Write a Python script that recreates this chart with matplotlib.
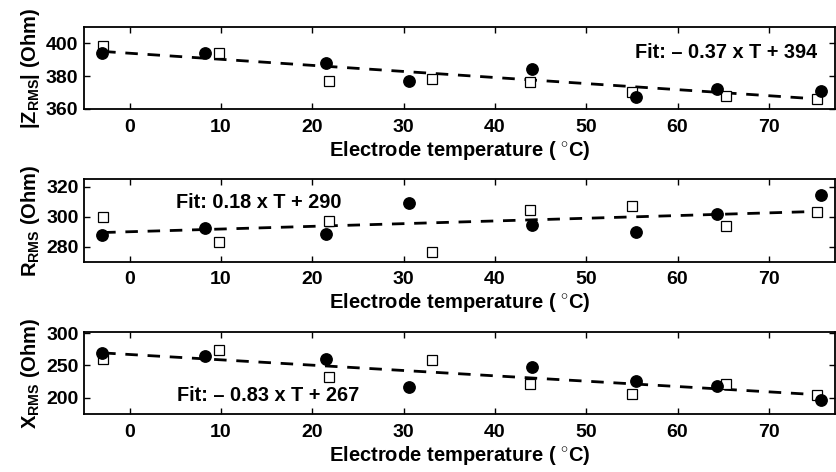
import numpy as np
import matplotlib
matplotlib.use("Agg")
import matplotlib.pyplot as plt

plt.rcParams['font.family'] = ['Liberation Sans', 'DejaVu Sans']
plt.rcParams['font.weight'] = 'bold'
plt.rcParams['mathtext.fontset'] = 'custom'
plt.rcParams['mathtext.rm'] = 'Liberation Sans:bold'
plt.rcParams['mathtext.bf'] = 'Liberation Sans:bold'
plt.rcParams['mathtext.it'] = 'Liberation Sans:bold'

# temperatures (deg C)
t_circle = [-3.0, 8.3, 21.5, 30.6, 44.1, 55.5, 64.3, 75.7]
t_square = [-2.9, 9.8, 21.8, 33.1, 43.8, 55.0, 65.3, 75.3]

# |Z_RMS|
z_circle = [393.9, 394.0, 388.2, 377.0, 384.3, 367.4, 372.3, 371.0]
z_square = [398.4, 394.0, 376.8, 378.2, 376.4, 370.5, 367.7, 365.9]
# R_RMS
r_circle = [287.8, 292.7, 288.2, 308.9, 294.5, 290.0, 301.6, 314.5]
r_square = [300.0, 283.1, 297.1, 276.7, 304.2, 307.1, 293.8, 303.3]
# X_RMS
x_circle = [269.7, 264.5, 260.4, 215.8, 247.4, 226.2, 218.4, 195.6]
x_square = [260.4, 274.4, 231.9, 258.8, 221.0, 206.0, 220.5, 203.9]

# fit coefficients (slope, intercept) as printed on the chart
fits = [(-0.37, 394), (0.18, 290), (-0.83, 267)]
fit_texts = ['Fit: \u2013 0.37 x T + 394', 'Fit: 0.18 x T + 290', 'Fit: \u2013 0.83 x T + 267']
fit_pos = [(65.3, 394.7), (14.1, 309.3), (15.2, 203.4)]

ylabels = [r'|Z$_{\mathrm{RMS}}$| (Ohm)', r'R$_{\mathrm{RMS}}$ (Ohm)', r'X$_{\mathrm{RMS}}$ (Ohm)']
ylims = [(360, 410), (270, 325), (174, 301.5)]
yticks = [[360, 380, 400], [280, 300, 320], [200, 250, 300]]
xticks = [0, 10, 20, 30, 40, 50, 60, 70]

W, H = 837, 472
fig = plt.figure(figsize=(W / 100, H / 100), dpi=100)
boxes = [(27, 109), (179.3, 261.7), (332.3, 414.3)]
left, right = 84, 835.5

panels = [(z_circle, z_square), (r_circle, r_square), (x_circle, x_square)]
for i, (yc, ys) in enumerate(panels):
    top, bot = boxes[i]
    ax = fig.add_axes([left / W, 1 - bot / H, (right - left) / W, (bot - top) / H])
    a, b = fits[i]
    tf = np.array([t_square[0], t_square[-1]])
    ax.plot(tf, a * tf + b, color='black', lw=2, ls=(0, (4.5, 3.5)), zorder=2)
    ax.plot(t_square, ys, 's', ms=6.8, mfc='white', mec='black', mew=0.9, zorder=3)
    ax.plot(t_circle, yc, 'o', ms=8.2, mfc='black', mec='black', zorder=4)
    ax.text(fit_pos[i][0], fit_pos[i][1], fit_texts[i], ha='center', va='center',
            fontsize=14.3, fontweight='bold')
    ax.set_xlim(-5, 77.3)
    ax.set_ylim(*ylims[i])
    ax.set_xticks(xticks)
    ax.set_yticks(yticks[i])
    ax.tick_params(axis='x', pad=7)
    ax.tick_params(axis='y', pad=4)
    ax.tick_params(direction='in', length=4.5, width=1, top=True, right=True,
                   labelsize=14)
    for lab in ax.get_xticklabels() + ax.get_yticklabels():
        lab.set_fontweight('bold')
    for sp in ax.spines.values():
        sp.set_linewidth(1.3)
    ax.set_xlabel(r'Electrode temperature ( $^{\circ}$C)', fontsize=14.5,
                  fontweight='bold', labelpad=2)
    ax.set_ylabel(ylabels[i], fontsize=14.5, fontweight='bold', labelpad=3)

fig.savefig('out.png', dpi=100)
